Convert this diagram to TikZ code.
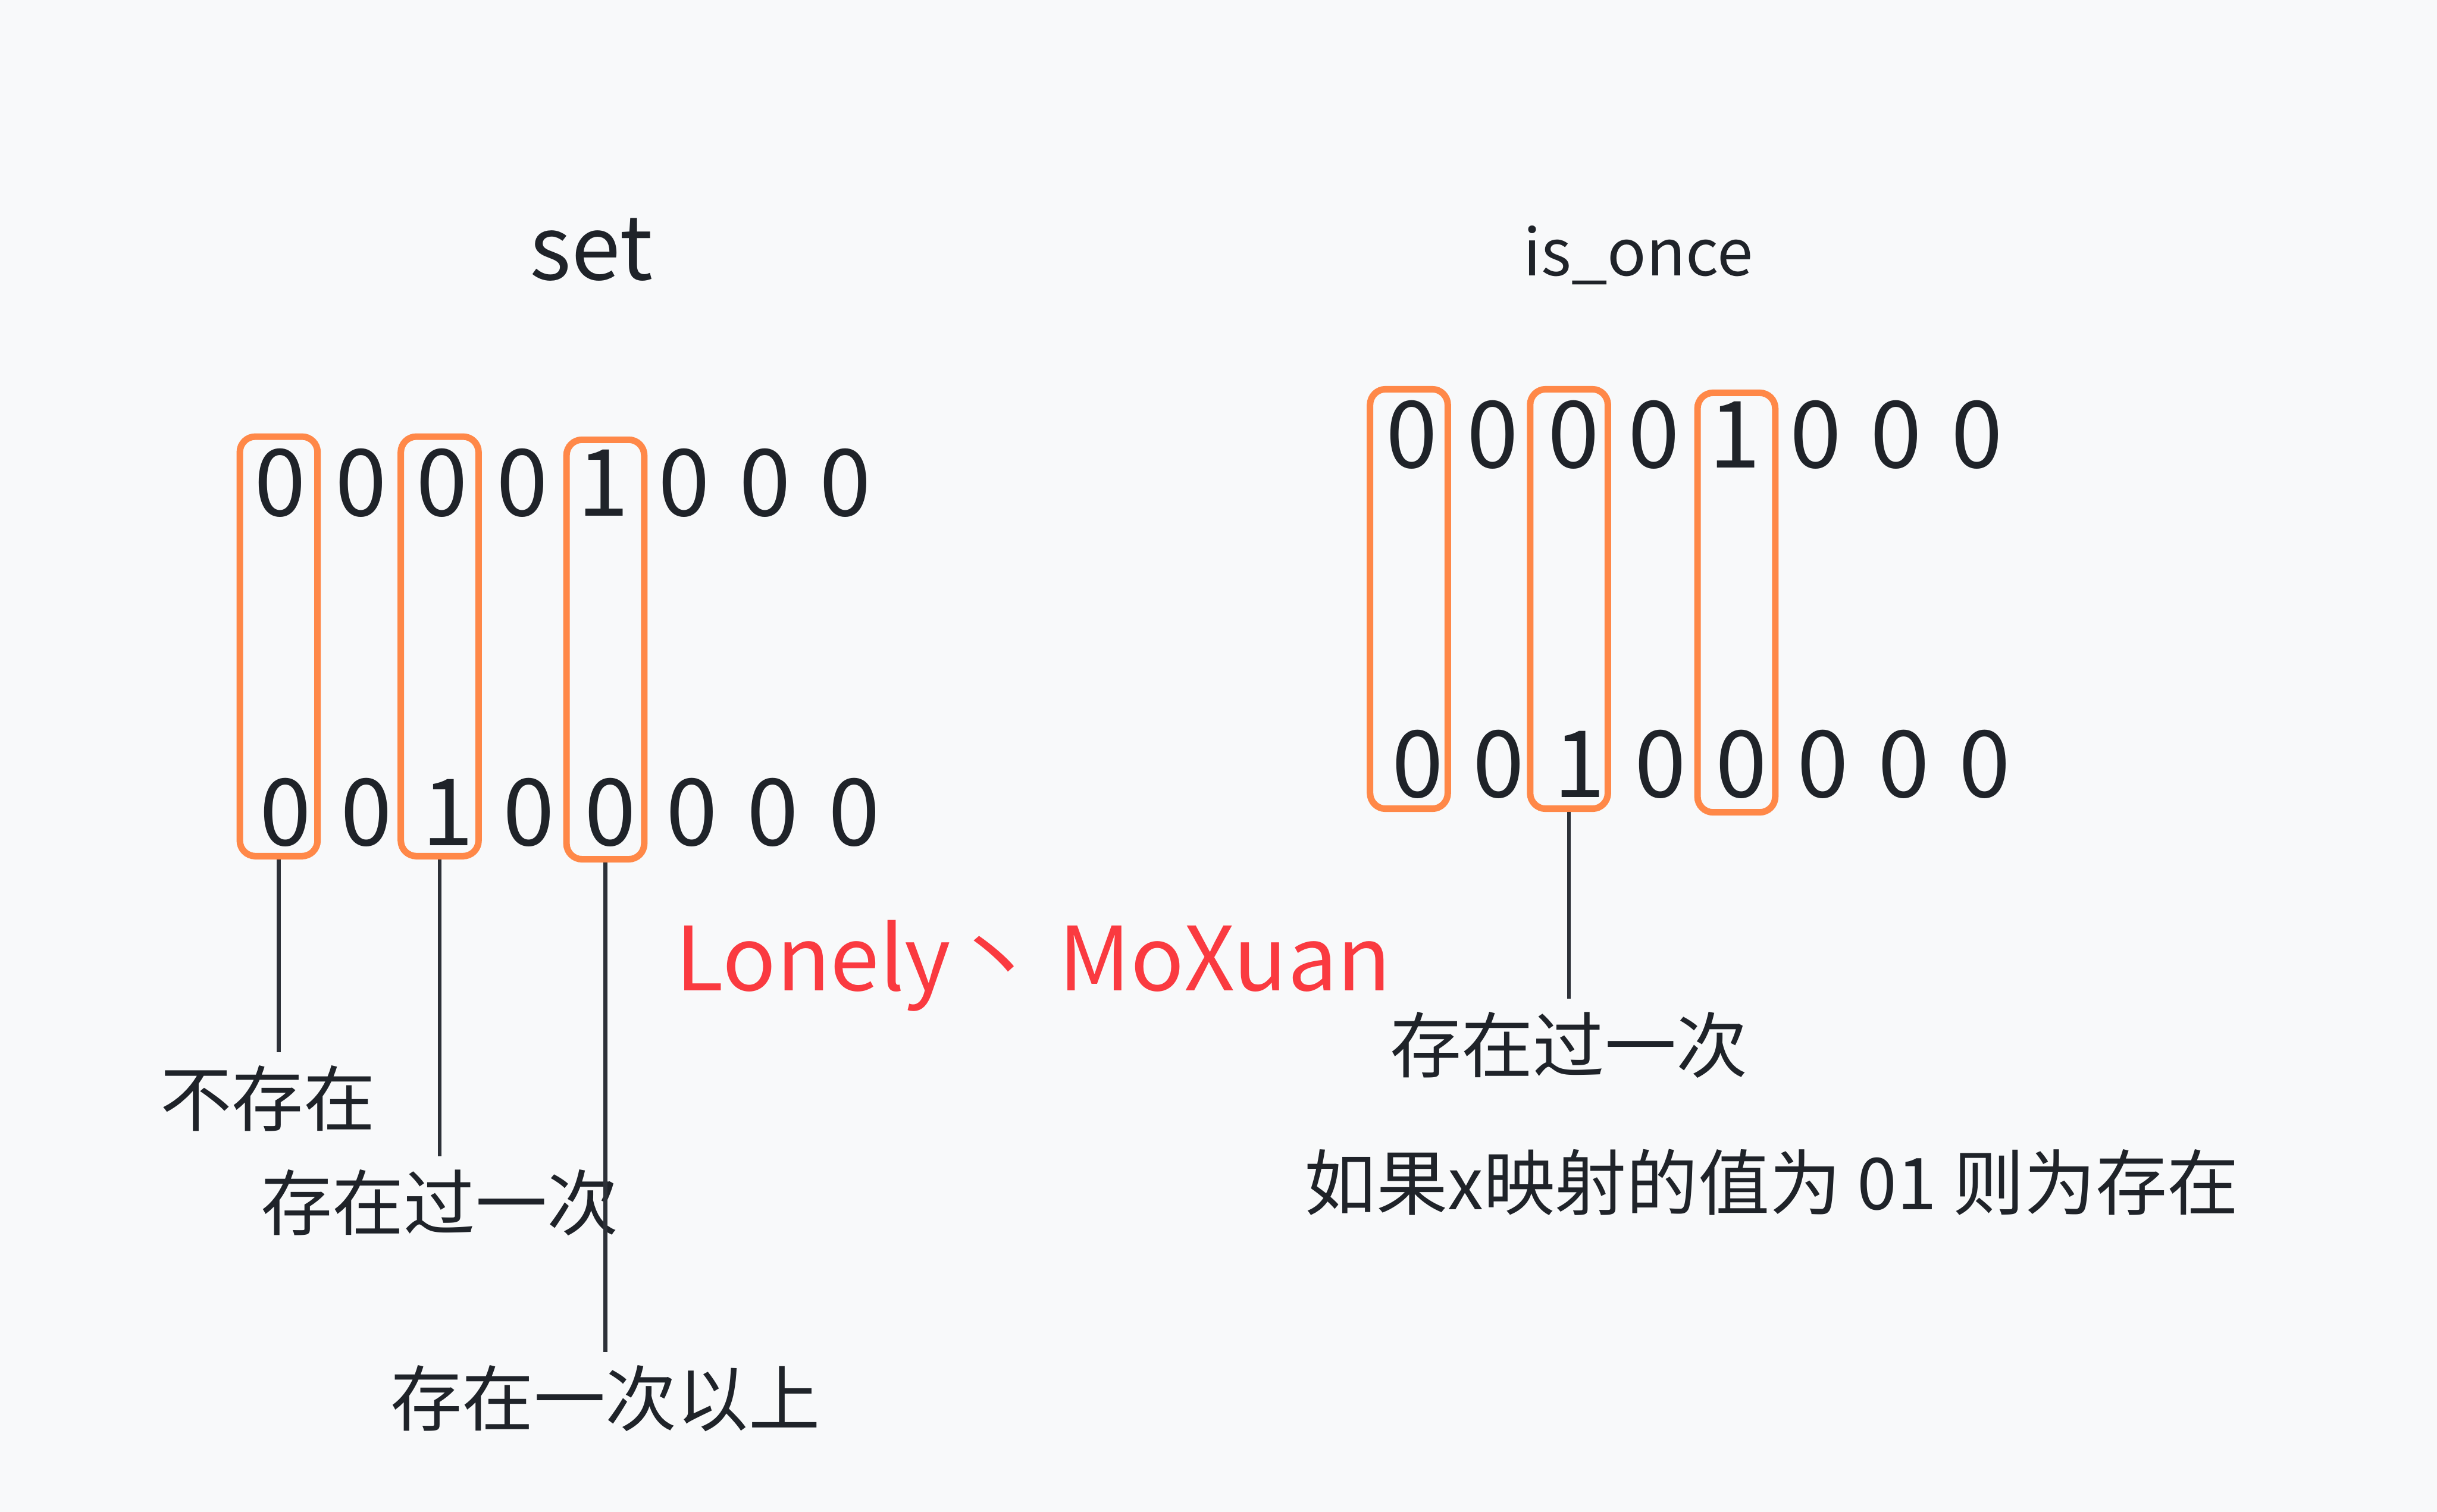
\documentclass[tikz,border=0pt]{standalone}
\usepackage{fontspec}
\setmainfont{Noto Sans CJK SC}
\usetikzlibrary{positioning}
\definecolor{bgcol}{RGB}{248,249,250}
\definecolor{inkcol}{RGB}{31,35,41}
\definecolor{boxorange}{RGB}{255,136,72}
\definecolor{markred}{RGB}{250,58,64}
\definecolor{leadcol}{RGB}{45,49,56}

\begin{document}
\begin{tikzpicture}[
    bit/.style={inkcol, inner sep=0, anchor=base, font=\fontsize{17}{17}\selectfont},
    bitbox/.style={draw=boxorange, line width=1.2pt, rounded corners=0.1cm, minimum width=0.50cm, minimum height=2.70cm, inner sep=0},
    lbl/.style={inkcol, inner sep=0.08cm, font=\fontsize{13.1}{13.1}\selectfont},
    leader/.style={leadcol, line width=0.7pt}
  ]
  \fill[bgcol] (0,0) rectangle (15.68,-9.73);
  \useasboundingbox (0,0) rectangle (15.68,-9.73);

  % Left: set bitmap, two rows
  \node[inkcol, anchor=base, font=\fontsize{16.2}{16.2}\selectfont] (setTitle) at (3.805,-1.80) {set};
  \foreach \d [count=\i] in {0,0,0,0,1,0,0,0}
    \node[bit] (st\i) at ({1.803+0.5196*(\i-1)},-3.32) {\d};
  \foreach \d [count=\i] in {0,0,1,0,0,0,0,0}
    \node[bit] (sb\i) at ({1.836+0.5227*(\i-1)},-5.44) {\d};

  % Columns picked out
  \node[bitbox] (setBox1) at (1.793,-4.16) {};
  \node[bitbox] (setBox2) at (2.829,-4.16) {};
  \node[bitbox] (setBox3) at (3.895,-4.18) {};

  % Labels hang below the columns
  \node[lbl, below=1.24cm of setBox1, xshift=-0.07cm] (setLbl1) {不存在};
  \node[lbl, below=1.91cm of setBox2] (setLbl2) {存在过一次};
  \node[lbl, below=3.15cm of setBox3] (setLbl3) {存在一次以上};
  \draw[leader] (setBox1.south) -- (setBox1.south |- setLbl1.north);
  \draw[leader] (setBox2.south) -- (setBox2.south |- setLbl2.north);
  \draw[leader] (setBox3.south) -- (setBox3.south |- setLbl3.north);

  % Watermark
  \node[markred, anchor=base, font=\fontsize{16.2}{16.2}\selectfont] (mark) at (6.65,-6.374) {Lonely丶 MoXuan};

  % Right: is_once bitmap
  \node[inkcol, anchor=base, font=\fontsize{11.8}{11.8}\selectfont] (onceTitle) at (10.54,-1.773) {is\_once};
  \foreach \d [count=\i] in {0,0,0,0,1,0,0,0}
    \node[bit] (ot\i) at ({9.084+0.5194*(\i-1)},-3.01) {\d};
  \foreach \d [count=\i] in {0,0,1,0,0,0,0,0}
    \node[bit] (ob\i) at ({9.12+0.5214*(\i-1)},-5.13) {\d};

  \node[bitbox] (onceBox1) at (9.065,-3.855) {};
  \node[bitbox] (onceBox2) at (10.095,-3.855) {};
  \node[bitbox] (onceBox3) at (11.172,-3.878) {};

  \node[lbl, below=1.20cm of onceBox2] (onceLbl) {存在过一次};
  \draw[leader] (onceBox2.south) -- (onceBox2.south |- onceLbl.north);

  % Note under the right side
  \node[lbl] (onceNote) at (11.40,-7.61) {如果x映射的值为 01 则为存在};
\end{tikzpicture}
\end{document}
